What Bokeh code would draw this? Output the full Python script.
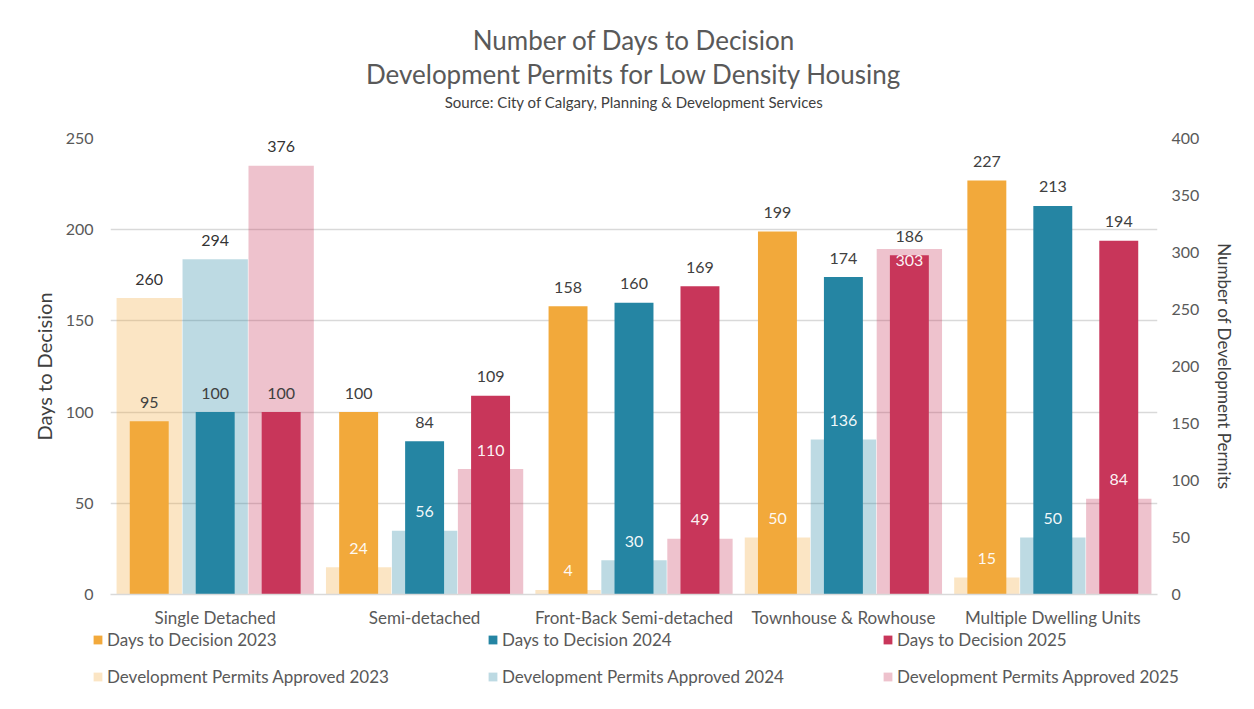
from bokeh.plotting import figure
from bokeh.layouts import column
from bokeh.models import (ColumnDataSource, FactorRange, Range1d, LinearAxis, FixedTicker,
                          LabelSet, Legend, LegendItem, Title)
from bokeh.core.properties import value
from bokeh.transform import dodge
from bokeh.embed import file_html
from bokeh.resources import INLINE

categories = ["Single Detached", "Semi-detached", "Front-Back Semi-detached",
              "Townhouse & Rowhouse", "Multiple Dwelling Units"]
days_2023 = [95, 100, 158, 199, 227]
days_2024 = [100, 84, 160, 174, 213]
days_2025 = [100, 109, 169, 186, 194]
permits_2023 = [260, 24, 4, 50, 15]
permits_2024 = [294, 56, 30, 136, 50]
permits_2025 = [376, 110, 49, 303, 84]
years = ["2023", "2024", "2025"]
left_ticks = [0, 50, 100, 150, 200, 250]
right_ticks = [0, 50, 100, 150, 200, 250, 300, 350, 400]

colors = {"2023": "#F2A93B", "2024": "#2585A3", "2025": "#C8365A"}
FONT = "Lato"
TXT = "#595959"

days = {"2023": days_2023, "2024": days_2024, "2025": days_2025}
permits = {"2023": permits_2023, "2024": permits_2024, "2025": permits_2025}
offsets = {"2023": -0.315, "2024": 0.0, "2025": 0.315}

W = 1250
ML, MR, MT, MB = 110, 93, 138, 36
H = 594 + MB
frame_h = 594 - MT
px_days = frame_h / 250.0
px_perm = frame_h / 400.0

p = figure(width=W, height=H, x_range=FactorRange(factors=categories, range_padding=0),
           y_range=Range1d(0, 250), output_backend="svg", toolbar_location=None,
           min_border_left=ML, min_border_right=MR, min_border_top=MT, min_border_bottom=MB)
p.extra_y_ranges = {"permits": Range1d(0, 400)}
p.outline_line_color = None
p.background_fill_color = "white"
p.border_fill_color = "white"

# titles: p.title is outermost; first added Title is closest to the frame
p.title.text = "Number of Days to Decision"
p.title.align = "center"
p.title.text_font = FONT
p.title.text_font_size = "26px"
p.title.text_font_style = "normal"
p.title.text_color = TXT
p.title.standoff = 0
spacer = Title(text=" ", text_font=FONT, text_font_size="1px", standoff=24)
src_title = Title(text="Source: City of Calgary, Planning & Development Services", align="center",
                  text_font=FONT, text_font_size="15px", text_font_style="normal",
                  text_color="#404040", standoff=2)
t2 = Title(text="Development Permits for Low Density Housing", align="center",
           text_font=FONT, text_font_size="26px", text_font_style="normal", text_color=TXT, standoff=0)
p.add_layout(spacer, "above")
p.add_layout(src_title, "above")
p.add_layout(t2, "above")

perm_src, days_src = {}, {}
for yr in years:
    perm_src[yr] = ColumnDataSource(dict(cat=categories, v=permits[yr]))
    days_src[yr] = ColumnDataSource(dict(cat=categories, v=days[yr]))

for yr in years:
    p.vbar(x=dodge("cat", offsets[yr], range=p.x_range), top="v", width=0.312, source=perm_src[yr],
           y_range_name="permits", fill_color=colors[yr], fill_alpha=0.3, line_color=None)

for yr in years:
    p.vbar(x=dodge("cat", offsets[yr], range=p.x_range), top="v", width=0.186, source=days_src[yr],
           fill_color=colors[yr], line_color=None)

# days labels
for yr in years:
    src = ColumnDataSource(dict(cat=categories, v=days[yr], t=[str(v) for v in days[yr]]))
    p.add_layout(LabelSet(x=dodge("cat", offsets[yr], range=p.x_range), y="v", text="t", source=src,
                          text_align="center", text_baseline="middle", y_offset=19,
                          text_font=value(FONT), text_font_size=value("16px"), text_color="#404040"))

# permit labels
for yr in years:
    dy, col = [], []
    for d, pm in zip(days[yr], permits[yr]):
        lab_px = pm * px_perm + 19
        day_lab_px = d * px_days + 19
        if abs(lab_px - day_lab_px) < 22:
            dy.append(-11)
            lab_px = pm * px_perm - 11
        else:
            dy.append(19)
        col.append("white" if lab_px < d * px_days else "#262626")
    src = ColumnDataSource(dict(cat=categories, v=permits[yr], t=[str(v) for v in permits[yr]],
                                dy=dy, col=col))
    p.add_layout(LabelSet(x=dodge("cat", offsets[yr], range=p.x_range), y="v", text="t", source=src,
                          y_range_name="permits", text_align="center", text_baseline="middle",
                          y_offset="dy", text_color="col", text_alpha=0.95,
                          text_font=value(FONT), text_font_size=value("16px")))

# axes
p.xaxis.axis_line_color = "#d9d9d9"
p.xaxis.axis_line_width = 1.5
p.xaxis.major_tick_line_color = None
p.xaxis.minor_tick_line_color = None
p.xaxis.major_label_text_font = FONT
p.xaxis.major_label_text_font_size = "17px"
p.xaxis.major_label_text_color = TXT
p.xaxis.major_label_standoff = 6

p.yaxis.ticker = FixedTicker(ticks=left_ticks)
p.yaxis.axis_line_color = None
p.yaxis.major_tick_line_color = None
p.yaxis.minor_tick_line_color = None
p.yaxis.major_label_text_font = FONT
p.yaxis.major_label_text_font_size = "16px"
p.yaxis.major_label_text_color = TXT
p.yaxis.major_label_standoff = 11
p.yaxis.axis_label = "Days to Decision"
p.yaxis.axis_label_text_font = FONT
p.yaxis.axis_label_text_font_size = "20px"
p.yaxis.axis_label_text_font_style = "normal"
p.yaxis.axis_label_text_color = "#404040"
p.yaxis.axis_label_standoff = 7

ra = LinearAxis(y_range_name="permits", ticker=FixedTicker(ticks=right_ticks),
                axis_label="Number of Development Permits")
ra.axis_line_color = None
ra.major_tick_line_color = None
ra.minor_tick_line_color = None
ra.major_label_text_font = FONT
ra.major_label_text_font_size = "16px"
ra.major_label_text_color = TXT
ra.major_label_standoff = 8
ra.axis_label_text_font = FONT
ra.axis_label_text_font_size = "17px"
ra.axis_label_text_font_style = "normal"
ra.axis_label_text_color = "#404040"
ra.axis_label_standoff = 12
p.add_layout(ra, "right")

p.xgrid.grid_line_color = None
p.ygrid.grid_line_color = "#d9d9d9"
p.ygrid.grid_line_width = 1.5

# legend strip below the chart (its bars sit far below the visible range)
LH = 709 - H
lf = figure(width=W, height=LH, x_range=FactorRange(factors=categories),
            y_range=Range1d(100000, 100001),
            output_backend="svg", toolbar_location=None, min_border=0)
try:
    lf.frame_align = False
except Exception:
    pass
lf.axis.visible = False
lf.grid.visible = False
lf.outline_line_color = None
lf.border_fill_color = "white"
lf.background_fill_color = "white"
days_r, perm_r = {}, {}
for yr in years:
    days_r[yr] = lf.vbar(x="cat", top="v", width=0.1, source=days_src[yr],
                         fill_color=colors[yr], line_color=None)
    perm_r[yr] = lf.vbar(x="cat", top="v", width=0.1, source=perm_src[yr],
                         fill_color=colors[yr], fill_alpha=0.3, line_color=None)

items = [LegendItem(label="Days to Decision " + yr, renderers=[days_r[yr]]) for yr in years] + \
        [LegendItem(label="Development Permits Approved " + yr, renderers=[perm_r[yr]]) for yr in years]
legend = Legend(items=items, orientation="horizontal", ncols=3, location=(92, LH - 57),
                border_line_color=None, background_fill_alpha=0, padding=0, margin=0,
                glyph_width=11, glyph_height=11, label_standoff=4, spacing=16, label_width=364,
                label_text_font=FONT, label_text_font_size="17px", label_text_color=TXT)
lf.add_layout(legend, "center")

layout = column(p, lf, spacing=0)
open("out.html", "w").write(file_html(layout, INLINE))
